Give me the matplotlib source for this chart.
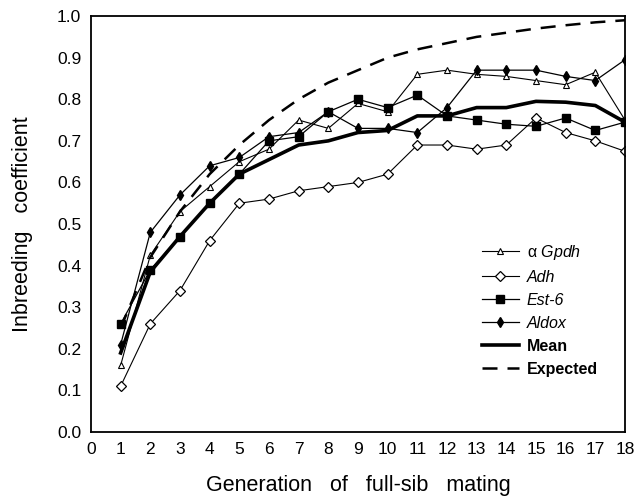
import matplotlib
matplotlib.use('Agg')
import matplotlib.pyplot as plt

plt.rcParams['font.family'] = ['Liberation Sans', 'DejaVu Sans']
plt.rcParams['mathtext.fontset'] = 'custom'
plt.rcParams['mathtext.rm'] = 'Liberation Sans'
plt.rcParams['mathtext.it'] = 'Liberation Sans:italic'

# data
generation = list(range(1, 19))
gpdh = [0.16, 0.425, 0.53, 0.59, 0.65, 0.68, 0.75, 0.73, 0.79, 0.77, 0.86, 0.87,
        0.86, 0.855, 0.845, 0.835, 0.865, 0.75]
adh = [0.11, 0.26, 0.34, 0.46, 0.55, 0.56, 0.58, 0.59, 0.60, 0.62, 0.69, 0.69,
       0.68, 0.69, 0.755, 0.72, 0.70, 0.675]
est6 = [0.26, 0.39, 0.47, 0.55, 0.62, 0.70, 0.71, 0.77, 0.80, 0.78, 0.81, 0.76,
        0.75, 0.74, 0.735, 0.755, 0.725, 0.745]
aldox = [0.21, 0.48, 0.57, 0.64, 0.66, 0.71, 0.72, 0.77, 0.73, 0.73, 0.72, 0.78,
         0.87, 0.87, 0.87, 0.855, 0.845, 0.895]
mean = [0.19, 0.385, 0.47, 0.55, 0.62, 0.655, 0.69, 0.70, 0.72, 0.725, 0.76, 0.76,
        0.78, 0.78, 0.795, 0.793, 0.785, 0.745]
expected = [0.25, 0.42, 0.53, 0.62, 0.69, 0.75, 0.80, 0.84, 0.87, 0.90, 0.92, 0.935,
            0.95, 0.96, 0.97, 0.978, 0.985, 0.99]

fig = plt.figure(figsize=(6.42, 5.03), dpi=100)
ax = fig.add_axes([0.1417, 0.1412, 0.8318, 0.8268])

ax.plot(generation, gpdh, color='black', lw=0.8, marker='^', ms=5,
        mfc='white', mec='black', mew=0.8, label=r'$\mathrm{\alpha}$ $\mathit{Gpdh}$')
ax.plot(generation, adh, color='black', lw=0.8, marker='D', ms=5,
        mfc='white', mec='black', mew=0.9, label='Adh')
ax.plot(generation, est6, color='black', lw=0.9, marker='s', ms=6,
        mfc='black', mec='black', label='Est-6')
ax.plot(generation, aldox, color='black', lw=0.9, marker='d', ms=5.5,
        mfc='black', mec='black', label='Aldox')
ax.plot(generation, mean, color='black', lw=2.6, label='Mean')
ax.plot(generation, expected, color='black', lw=1.8, dashes=(6, 4), label='Expected')

ax.set_xlim(0, 18)
ax.set_ylim(0, 1.0)
ax.set_xticks(range(0, 19))
ax.set_yticks([i / 10 for i in range(11)])
ax.set_yticklabels([f'{i / 10:.1f}' for i in range(11)])
ax.tick_params(axis='both', which='major', length=0, labelsize=12.5, pad=7)
ax.set_xticks(range(1, 18), minor=True)
ax.set_yticks([i / 10 for i in range(1, 10)], minor=True)
ax.tick_params(axis='x', which='minor', direction='in', length=10, width=1.1)
ax.tick_params(axis='y', which='minor', direction='in', length=7, width=1.1)
for s in ax.spines.values():
    s.set_linewidth(1.3)

ax.set_xlabel('Generation   of   full-sib   mating', fontsize=15.5, labelpad=13)
ax.set_ylabel('Inbreeding   coefficient', fontsize=15.5, labelpad=17)

leg = ax.legend(loc='upper left', bbox_to_anchor=(0.705, 0.49), frameon=False,
                fontsize=11.5, handlelength=2.3, handletextpad=0.5, labelspacing=0.5)
for t, style in zip(leg.get_texts(), ['normal', 'italic', 'italic', 'italic', 'normal', 'normal']):
    t.set_fontstyle(style)
leg.get_texts()[4].set_fontweight('bold')
leg.get_texts()[5].set_fontweight('bold')

fig.savefig('out.png', dpi=100)
